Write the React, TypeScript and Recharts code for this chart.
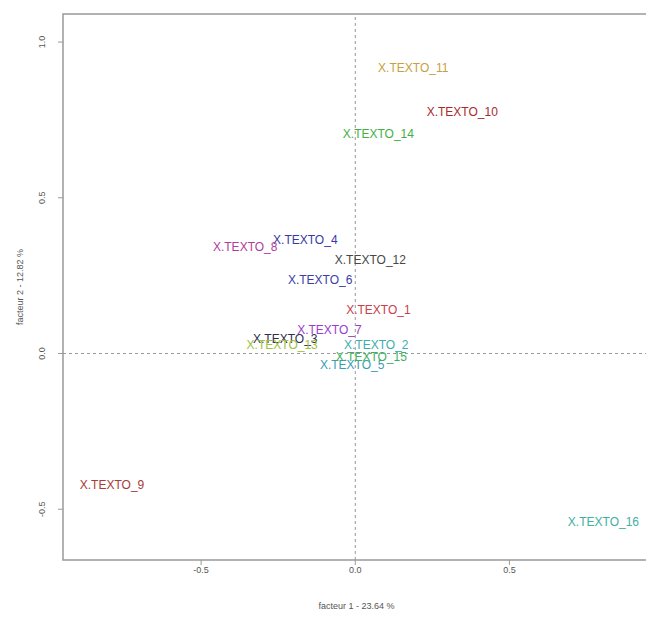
import React from 'react'
import {
  ScatterChart,
  Scatter,
  XAxis,
  YAxis,
  ReferenceLine,
  ReferenceArea,
} from 'recharts'

const labels = [
  'X.TEXTO_1', 'X.TEXTO_2', 'X.TEXTO_3', 'X.TEXTO_4', 'X.TEXTO_5', 'X.TEXTO_6',
  'X.TEXTO_7', 'X.TEXTO_8', 'X.TEXTO_9', 'X.TEXTO_10', 'X.TEXTO_11', 'X.TEXTO_12',
  'X.TEXTO_13', 'X.TEXTO_14', 'X.TEXTO_15', 'X.TEXTO_16',
]
const dim1 = [0.075, 0.068, -0.227, -0.162, -0.01, -0.114, -0.084, -0.357, -0.789, 0.347, 0.188, 0.049, -0.237, 0.075, 0.052, 0.805]
const dim2 = [0.141, 0.026, 0.048, 0.365, -0.038, 0.237, 0.077, 0.343, -0.423, 0.776, 0.917, 0.301, 0.026, 0.705, -0.01, -0.542]
const colors = [
  '#c8404a', '#3aaeae', '#2e2e50', '#3838a8', '#3a9cb0', '#3c3ca8', '#9a3ccc', '#b03c9c',
  '#a83a3a', '#a82a2a', '#c8a040', '#484848', '#a0c040', '#44b044', '#40b060', '#40b0a0',
]
const xTicks = [-0.5, 0, 0.5]
const yTicks = [-0.5, 0, 0.5, 1.0]
const xDomain: [number, number] = [-0.948, 0.956]
const yDomain: [number, number] = [-0.663, 1.09]

const points = labels.map((name, i) => ({ name, x: dim1[i], y: dim2[i], color: colors[i] }))

const FONT = '"Liberation Sans", Arial, sans-serif'

function LabelShape(props: any) {
  const { cx, cy, payload } = props
  return (
    <text
      x={cx}
      y={cy}
      textAnchor="middle"
      dominantBaseline="central"
      fill={payload.color}
      fontSize={12}
      fontFamily={FONT}
    >
      {payload.name}
    </text>
  )
}

function YTick(props: any) {
  const { x, y, payload } = props
  return (
    <text
      x={0}
      y={0}
      transform={`translate(${x - 14},${y}) rotate(-90)`}
      textAnchor="middle"
      dominantBaseline="central"
      fill="#555"
      fontSize={9}
      fontFamily={FONT}
    >
      {payload.value.toFixed(1)}
    </text>
  )
}

export default function App() {
  return (
    <div style={{ position: 'absolute', left: 0, top: 0, width: 646, height: 619, overflow: 'hidden', background: '#fff' }}>
      <ScatterChart width={650} height={619} margin={{ top: 14, right: 0, bottom: 0, left: 0 }}>
        <ReferenceArea
          x1={xDomain[0]}
          x2={xDomain[1]}
          y1={yDomain[0]}
          y2={yDomain[1]}
          fill="none"
          stroke="#999"
          strokeWidth={1.5}
        />
        <XAxis
          type="number"
          dataKey="x"
          domain={xDomain}
          ticks={xTicks}
          allowDataOverflow
          height={59}
          axisLine={false}
          tickLine={{ stroke: '#999' }}
          tickSize={5}
          tick={{ fill: '#555', fontSize: 9, fontFamily: FONT }}
          tickFormatter={(v: number) => v.toFixed(1)}
          label={{ value: 'facteur 1 - 23.64 %', position: 'insideBottom', offset: 10, fill: '#555', fontSize: 9, fontFamily: FONT }}
        />
        <YAxis
          type="number"
          dataKey="y"
          domain={yDomain}
          ticks={yTicks}
          allowDataOverflow
          width={63}
          axisLine={false}
          tickLine={{ stroke: '#999' }}
          tickSize={5}
          tick={<YTick />}
          label={{ value: 'facteur 2 - 12.82 %', angle: -90, position: 'insideLeft', offset: 20, fill: '#555', fontSize: 9, fontFamily: FONT, style: { textAnchor: 'middle' } }}
        />
        <ReferenceLine x={0} stroke="#999" strokeDasharray="3 3" />
        <ReferenceLine y={0} stroke="#999" strokeDasharray="3 3" />
        <Scatter data={points} shape={<LabelShape />} isAnimationActive={false} />
      </ScatterChart>
    </div>
  )
}
